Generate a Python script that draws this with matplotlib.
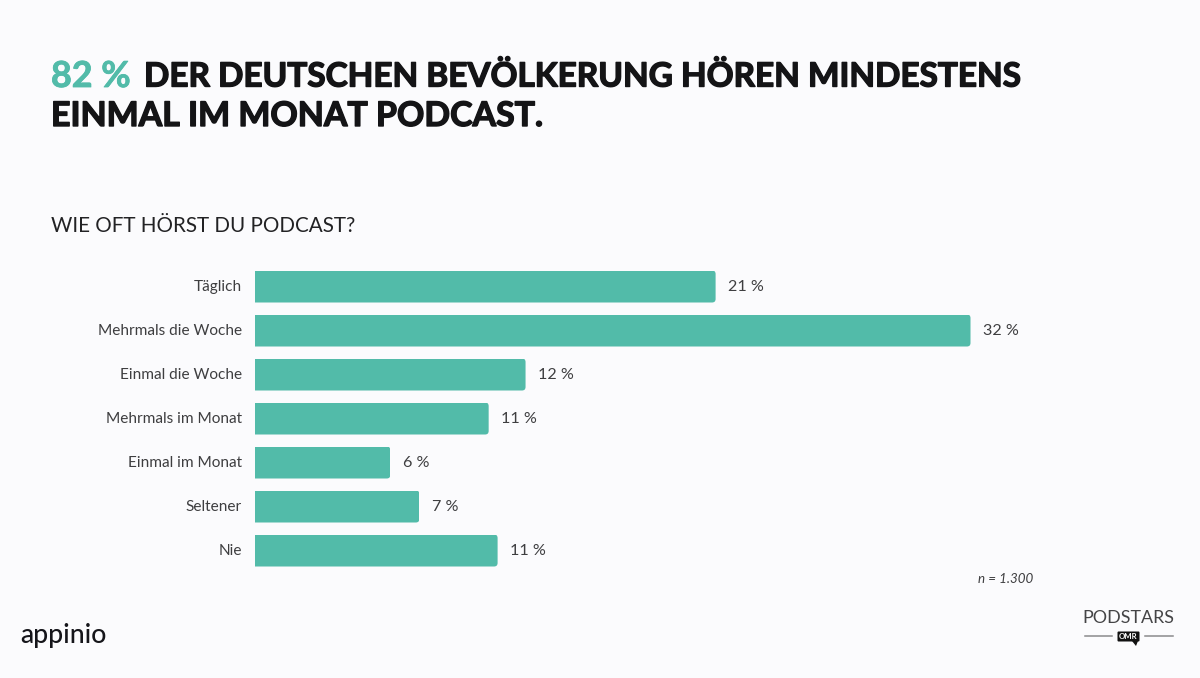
import matplotlib
matplotlib.use("Agg")
import matplotlib.pyplot as plt
import matplotlib.patheffects as pe
from matplotlib.patches import FancyBboxPatch, Polygon
from matplotlib.transforms import IdentityTransform

# Values: bar lengths (percent), labels as printed
categories = ["Täglich", "Mehrmals die Woche", "Einmal die Woche", "Mehrmals im Monat",
              "Einmal im Monat", "Seltener", "Nie"]
bar_values = [20.6, 32.0, 12.1, 10.45, 6.05, 7.35, 10.85]
value_labels = ["21 %", "32 %", "12 %", "11 %", "6 %", "7 %", "11 %"]

W, H = 1200, 678
BG = "#FBFBFD"
TEAL = "#52BBA9"
DARK = "#141416"
GREY = "#3E3E40"
plt.rcParams["font.family"] = ["Lato", "DejaVu Sans"]

fig = plt.figure(figsize=(W / 100, H / 100), dpi=100, facecolor=BG)

# Page layer in pixel coordinates for the headings and logos
page = fig.add_axes([0, 0, 1, 1])
page.set_xlim(0, W)
page.set_ylim(H, 0)
page.axis("off")

# Chart layer: zero at x=255 px, 32 % at x=970.5 px; rows are 44 px apart
left, right, top, bottom = 255, 1095, 264.5, 572.5
ax = fig.add_axes([left / W, 1 - bottom / H, (right - left) / W, (bottom - top) / H])
ax.patch.set_alpha(0)
ax.set_xlim(0, (right - left) / (715.5 / 32))
ax.set_ylim(6.5, -0.5)
ax.axis("off")

bars = ax.barh(range(len(bar_values)), bar_values, height=32 / 44, color=TEAL, linewidth=0)
fig.canvas.draw()
for bar, cat, lab in zip(bars, categories, value_labels):
    bb = bar.get_window_extent()
    r = 3.5
    clip = FancyBboxPatch((bb.x0 - 10, bb.y0 + r), bb.width + 10 - r, bb.height - 2 * r,
                          boxstyle=f"round,pad={r},rounding_size={r}",
                          transform=IdentityTransform())
    bar.set_clip_path(clip)
    yc = bar.get_y() + bar.get_height() / 2
    ax.annotate(cat, (0, yc), xytext=(-13 * 0.72, -0.2), textcoords="offset points",
                ha="right", va="center", fontsize=11.1, color=GREY)
    ax.annotate(lab, (bar.get_width(), yc), xytext=(12.5 * 0.72, -0.2), textcoords="offset points",
                ha="left", va="center", fontsize=11.6, color=GREY)

heavy = [pe.withStroke(linewidth=1.0, foreground=DARK)]
heavy_t = [pe.withStroke(linewidth=0.6, foreground=TEAL)]
page.text(51, 76.5, "82 %", fontsize=25.8, fontweight="bold", color=TEAL, va="center", path_effects=heavy_t)
page.text(144, 76.5, "DER DEUTSCHEN BEVÖLKERUNG HÖREN MINDESTENS", fontsize=24, fontweight="bold",
          color=DARK, va="center", path_effects=heavy)
page.text(51, 116, "EINMAL IM MONAT PODCAST.", fontsize=24.4, fontweight="bold",
          color=DARK, va="center", path_effects=heavy)
page.text(51, 226, "WIE OFT HÖRST DU PODCAST?", fontsize=14.85, color="#222224", va="center")
page.text(1033, 579, "n = 1.300", fontsize=9.6, style="italic", color=GREY, ha="right", va="center")

page.text(20, 635, "appinio", fontsize=19.2, fontweight="medium", color="#15151A", va="center")
page.text(1128.5, 618, "PODSTARS", fontsize=12.9, color="#444446", ha="center", va="center")
page.plot([1085, 1112], [636, 636], color="#8A8A8C", lw=1.1)
page.plot([1145, 1173], [636, 636], color="#8A8A8C", lw=1.1)
page.add_patch(FancyBboxPatch((1118, 632), 21, 9, boxstyle="round,pad=0.5,rounding_size=1",
                              fc="#111111", lw=0))
page.add_patch(Polygon([[1132, 641], [1138, 641], [1136, 646]], fc="#111111", lw=0))
page.text(1128.5, 636.5, "OMR", fontsize=5.6, fontweight="bold", color="white", ha="center", va="center")

fig.savefig("out.png", dpi=100, facecolor=BG)
